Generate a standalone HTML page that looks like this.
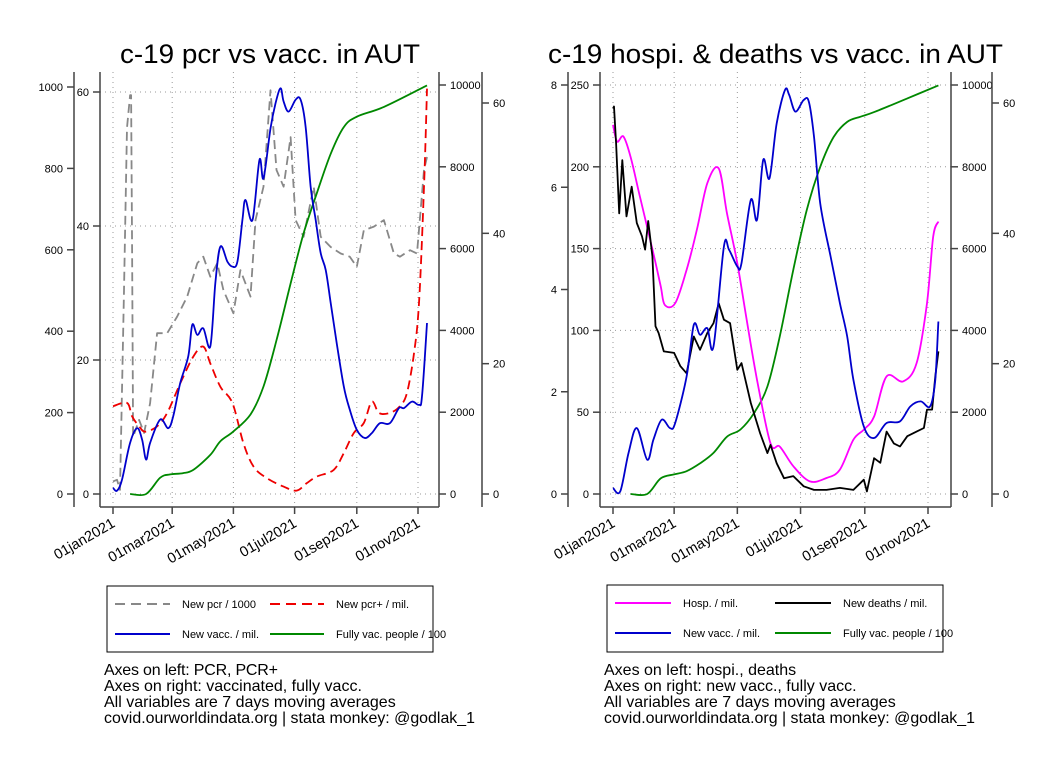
<!DOCTYPE html>
<html><head><meta charset="utf-8"><style>
html,body{margin:0;padding:0;background:#fff;}
svg{display:block;font-family:"Liberation Sans",Arial,sans-serif;}
</style></head><body>
<svg id="chart" width="1056" height="768" viewBox="0 0 1056 768" xmlns="http://www.w3.org/2000/svg">
<rect x="0" y="0" width="1056" height="768" fill="#fff"/>
<g id="p1"></g>
<g id="p2"></g>
<g><text x="120" y="63" font-size="27" textLength="300" lengthAdjust="spacingAndGlyphs">c-19 pcr vs vacc. in AUT</text></g>
<g><text x="548" y="63" font-size="27" textLength="455" lengthAdjust="spacingAndGlyphs">c-19 hospi. &amp; deaths vs vacc. in AUT</text></g>

<g>
<rect x="107" y="586" width="326" height="66" fill="none" stroke="#000" stroke-width="1"/>
<line x1="115" y1="604" x2="170" y2="604" stroke="#888" stroke-width="2" stroke-dasharray="10,6"/>
<text x="182" y="608" font-size="11">New pcr / 1000</text>
<line x1="270" y1="604" x2="324" y2="604" stroke="#e00" stroke-width="2" stroke-dasharray="10,6"/>
<text x="336" y="608" font-size="11">New pcr+ / mil.</text>
<line x1="115" y1="634" x2="170" y2="634" stroke="#00c" stroke-width="2"/>
<text x="182" y="638" font-size="11">New vacc. / mil.</text>
<line x1="270" y1="634" x2="324" y2="634" stroke="#080" stroke-width="2"/>
<text x="336" y="638" font-size="11">Fully vac. people / 100</text>
</g>
<g>
<rect x="607" y="585" width="336" height="67" fill="none" stroke="#000" stroke-width="1"/>
<line x1="615" y1="603" x2="671" y2="603" stroke="#f0f" stroke-width="2"/>
<text x="683" y="607" font-size="11">Hosp. / mil.</text>
<line x1="775" y1="603" x2="831" y2="603" stroke="#000" stroke-width="2"/>
<text x="843" y="607" font-size="11">New deaths / mil.</text>
<line x1="615" y1="633" x2="671" y2="633" stroke="#00c" stroke-width="2"/>
<text x="683" y="637" font-size="11">New vacc. / mil.</text>
<line x1="775" y1="633" x2="831" y2="633" stroke="#080" stroke-width="2"/>
<text x="843" y="637" font-size="11">Fully vac. people / 100</text>
</g>
<g font-size="16">
<text x="104" y="675" textLength="174">Axes on left: PCR, PCR+</text>
<text x="104" y="691">Axes on right: vaccinated, fully vacc.</text>
<text x="104" y="707">All variables are 7 days moving averages</text>
<text x="104" y="723" textLength="371" lengthAdjust="spacingAndGlyphs">covid.ourworldindata.org | stata monkey: @godlak_1</text>
</g>
<g font-size="16">
<text x="604" y="675">Axes on left: hospi., deaths</text>
<text x="604" y="691">Axes on right: new vacc., fully vacc.</text>
<text x="604" y="707">All variables are 7 days moving averages</text>
<text x="604" y="723" textLength="371" lengthAdjust="spacingAndGlyphs">covid.ourworldindata.org | stata monkey: @godlak_1</text>
</g>
</svg>
<script>
// ---- data (day offset from 01jan2021) ----
const dateTickDays = [0, 59, 120, 181, 243, 304];
const dateTickLabels = ["01jan2021","01mar2021","01may2021","01jul2021","01sep2021","01nov2021"];

// Left panel
const pcrDays = [0,4,7,11,14,17,18,19,20,26,31,37,44,54,64,74,84,90,97,104,110,120,127,137,142,150,157,163,170,177,182,190,200,207,217,227,236,243,250,260,270,280,286,296,303,310,313];
const pcrVals = [31,35,10,500,900,980,980,600,140,182,150,223,395,395,436,485,567,583,534,567,501,444,550,485,673,755,992,796,755,877,673,632,755,632,607,591,583,558,648,657,673,591,583,599,591,796,828];
const pcrPosDays = [0,14,19,26,32,44,54,67,80,90,97,107,119,130,140,153,170,183,193,203,220,230,240,250,258,265,276,286,293,300,305,310,313];
const pcrPosVals = [13.1,13.6,11.6,10.1,9.3,10.1,12.1,16.5,20.5,22.0,19.5,16.0,13.6,7.6,4.1,2.4,1.1,0.5,1.6,2.6,3.6,6.1,9.1,10.6,13.8,12.1,12.1,13.1,15.1,21.0,28.5,45.9,60.5];
const vaccLDays = [0,4,9,17,24,29,33,37,47,55,60,67,75,79,84,90,97,102,107,114,119,124,129,132,139,146,150,157,162,167,170,175,182,187,192,197,202,207,212,217,223,230,236,243,251,258,266,276,285,290,298,305,308,313];
const vaccLVals = [150,80,350,1250,1610,1330,840,1250,1820,1610,1900,2710,3360,4140,3890,4050,3610,5150,6050,5680,5560,5680,6700,7190,6700,8170,7720,8940,9550,9920,9600,9350,9640,9640,8980,7520,6700,5890,5480,4670,3690,2630,2060,1570,1370,1490,1730,1730,2100,2100,2260,2180,2390,4180];
const fullyLDays = [17,33,47,57,70,80,97,107,120,137,150,163,177,190,203,217,230,243,270,313];
const fullyLVals = [0,0,2.5,3.0,3.2,3.7,6.0,8.1,9.6,12.2,16.5,23.6,32.3,40,46.1,52.2,56.3,57.9,59.4,62.7];

// Right panel
const hospDays = [0,4,10,17,26,39,46,50,60,71,81,91,102,110,120,129,139,152,161,174,190,206,219,232,242,252,264,280,293,303,309,314];
const hospVals = [225.6,215.4,218.5,206,181.8,147,127,115.6,116.6,137,161.6,190,199,171.5,141,106.5,69.8,31,29,17,7.7,9.8,14.9,33.2,39.3,47.4,71.9,68.8,80,116.6,157.4,166.5];
const deathDays = [0,1,3,6,9,13,18,23,28,31,34,38,41,44,49,59,65,71,78,84,91,97,102,107,113,120,124,133,142,149,152,158,165,174,184,194,206,219,232,242,245,252,258,264,271,277,284,293,300,303,308,311,314];
const deathVals = [7.54,7.58,6.86,5.49,6.53,5.43,6.01,5.30,5.04,4.78,5.34,4.65,3.28,3.15,2.79,2.76,2.50,2.36,3.08,2.82,3.15,3.34,3.73,3.41,3.34,2.43,2.56,1.78,1.19,0.80,0.96,0.60,0.31,0.35,0.15,0.08,0.08,0.12,0.08,0.28,0.05,0.70,0.61,1.22,0.99,0.93,1.13,1.22,1.29,1.65,1.65,2.30,2.79];
const vaccRDays = [0,7,15,23,33,39,47,55,60,71,78,84,91,97,107,112,120,124,133,139,145,151,158,166,170,176,184,189,194,200,210,219,226,232,242,252,264,277,287,297,306,311,314];
const vaccRVals = [147,65,1000,1612,839,1327,1816,1612,1735,2874,4137,3893,4055,3607,6050,5969,5562,5643,7190,6702,8168,7720,9064,9878,9756,9349,9634,9593,8738,7109,5806,4666,3852,2793,1653,1368,1735,1775,2142,2264,2142,2793,4218];
const fullyRDays = [17,33,46,59,71,84,97,110,123,136,149,161,174,187,200,213,226,239,252,284,314];
const fullyRVals = [0,0,2.4,3.0,3.5,4.7,6.3,8.8,9.9,12.4,16.5,24.2,34.4,43.6,50.2,54.8,57.1,57.9,58.6,60.7,62.7];

const axL1Ticks = [0,200,400,600,800,1000];
const axL2Ticks = [0,20,40,60];
const axR1Ticks = [0,50,100,150,200,250];
const axR2Ticks = [0,2,4,6,8];
const vaccTicks = [0,2000,4000,6000,8000,10000];
const fullyTicks = [0,20,40,60];

const NS = "http://www.w3.org/2000/svg";
function mk(parent, tag, attrs){const e=document.createElementNS(NS,tag);for(const k in attrs)e.setAttribute(k,attrs[k]);parent.appendChild(e);return e;}
function linScale(d0,d1,r0,r1){return v=>r0+(v-d0)*(r1-r0)/(d1-d0);}

function smoothPath(p){
  let d='M'+p[0][0].toFixed(1)+','+p[0][1].toFixed(1);
  for(let i=0;i<p.length-1;i++){
    const p0=p[Math.max(0,i-1)],p1=p[i],p2=p[i+1],p3=p[Math.min(p.length-1,i+2)];
    const c1x=p1[0]+(p2[0]-p0[0])/6,c1y=p1[1]+(p2[1]-p0[1])/6;
    const c2x=p2[0]-(p3[0]-p1[0])/6,c2y=p2[1]-(p3[1]-p1[1])/6;
    d+=` C${c1x.toFixed(1)},${c1y.toFixed(1)} ${c2x.toFixed(1)},${c2y.toFixed(1)} ${p2[0].toFixed(1)},${p2[1].toFixed(1)}`;
  }
  return d;
}
function sharpPath(p){return 'M'+p.map(q=>q[0].toFixed(1)+','+q[1].toFixed(1)).join(' L');}

function drawPanel(g, cfg){
  const x = linScale(0,304,cfg.x0,cfg.x1);
  const top=72, bot=507;
  cfg.gridTicks.forEach(t=>{
    const yy=cfg.gridScale(t);
    const l=mk(g,'line',{x1:cfg.plotL,x2:cfg.plotR,y1:yy,y2:yy,stroke:'#999','stroke-width':1,'stroke-dasharray':'1,4'});
    
    
  });
  dateTickDays.forEach((d,i)=>{
    const xx=x(d);
    const l=mk(g,'line',{x1:xx,x2:xx,y1:top,y2:bot,stroke:'#999','stroke-width':1,'stroke-dasharray':'1,4'});
    
    
    const tk=mk(g,'line',{x1:xx,x2:xx,y1:bot,y2:bot+7,stroke:'#444','stroke-width':1.5});
    
    
    const t=mk(g,'text',{x:xx+3,y:bot+19,'font-size':14.5,'text-anchor':'end',transform:`rotate(-30 ${xx+3} ${bot+19})`});
    t.textContent=dateTickLabels[i];
    
    
  });
  const bl=mk(g,'line',{x1:cfg.plotL,x2:cfg.plotR,y1:bot,y2:bot,stroke:'#444','stroke-width':1.5});
  
  
  cfg.axes.forEach(ax=>{
    const al=mk(g,'line',{x1:ax.x,x2:ax.x,y1:top,y2:bot,stroke:'#444','stroke-width':1.5});
    
    
    ax.ticks.forEach(t=>{
      const yy=ax.scale(t);
      const dir=ax.side==='left'?-1:1;
      const tl=mk(g,'line',{x1:ax.x,x2:ax.x+dir*7,y1:yy,y2:yy,stroke:'#444','stroke-width':1.5});
      
      
      const tx=mk(g,'text',{x:ax.x+dir*(ax.gap),y:yy+4,'font-size':11,'text-anchor':ax.side==='left'?'end':'start'});
      tx.textContent=t;
      
      
    });
  });
  cfg.series.forEach(s=>{
    const pts=s.days.map((d,i)=>[x(d),Math.max(60,s.scale(s.vals[i]))]);
    const attrs={d:s.smooth?smoothPath(pts):sharpPath(pts),fill:'none',stroke:s.color,'stroke-width':s.w||1.8,'stroke-linejoin':'round'};
    if(s.dash)attrs['stroke-dasharray']=s.dash;
    const p=mk(g,'path',attrs);
    
    
  });
}

const sL1=linScale(0,1000,494,87);
const sL2=linScale(0,60,494,92);
const sLV=linScale(0,10000,494,85);
const sLF=linScale(0,60,494,103);
drawPanel(document.getElementById('p1'),{
  x0:113,x1:418,plotL:100,plotR:439,
  gridTicks:axL2Ticks,gridScale:sL2,
  axes:[
    {name:'pcr-axis',x:74,side:'left',ticks:axL1Ticks,scale:sL1,gap:11},
    {name:'pcr-pos-axis',x:100,side:'left',ticks:axL2Ticks,scale:sL2,gap:11},
    {name:'vacc-axis',x:439,side:'right',ticks:vaccTicks,scale:sLV,gap:11},
    {name:'fully-vacc-axis',x:482,side:'right',ticks:fullyTicks,scale:sLF,gap:11}
  ],
  series:[
    {name:'pcr-line',days:pcrDays,vals:pcrVals,scale:sL1,color:'#888',dash:'9,5'},
    {name:'pcr-positive-line',days:pcrPosDays,vals:pcrPosVals,scale:sL2,color:'#e00',dash:'9,5',smooth:true},
    {name:'fully-vacc-line',days:fullyLDays,vals:fullyLVals,scale:sLF,color:'#080',smooth:true},
    {name:'new-vacc-line',days:vaccLDays,vals:vaccLVals,scale:sLV,color:'#00c',smooth:true}
  ]
});

const sR1=linScale(0,250,494,85);
const sR2=linScale(0,8,494,85);
const sRV=linScale(0,10000,494,85);
const sRF=linScale(0,60,494,103);
drawPanel(document.getElementById('p2'),{
  x0:613,x1:928,plotL:600,plotR:951,
  gridTicks:axR1Ticks,gridScale:sR1,
  axes:[
    {name:'deaths-axis',x:568,side:'left',ticks:axR2Ticks,scale:sR2,gap:11},
    {name:'hosp-axis',x:600,side:'left',ticks:axR1Ticks,scale:sR1,gap:11},
    {name:'vacc-axis',x:951,side:'right',ticks:vaccTicks,scale:sRV,gap:11},
    {name:'fully-vacc-axis',x:992,side:'right',ticks:fullyTicks,scale:sRF,gap:11}
  ],
  series:[
    {name:'fully-vacc-line',days:fullyRDays,vals:fullyRVals,scale:sRF,color:'#080',smooth:true},
    {name:'hosp-line',days:hospDays,vals:hospVals,scale:sR1,color:'#f0f',smooth:true},
    {name:'deaths-line',days:deathDays,vals:deathVals,scale:sR2,color:'#000'},
    {name:'new-vacc-line',days:vaccRDays,vals:vaccRVals,scale:sRV,color:'#00c',smooth:true}
  ]
});
</script>
</body></html>
